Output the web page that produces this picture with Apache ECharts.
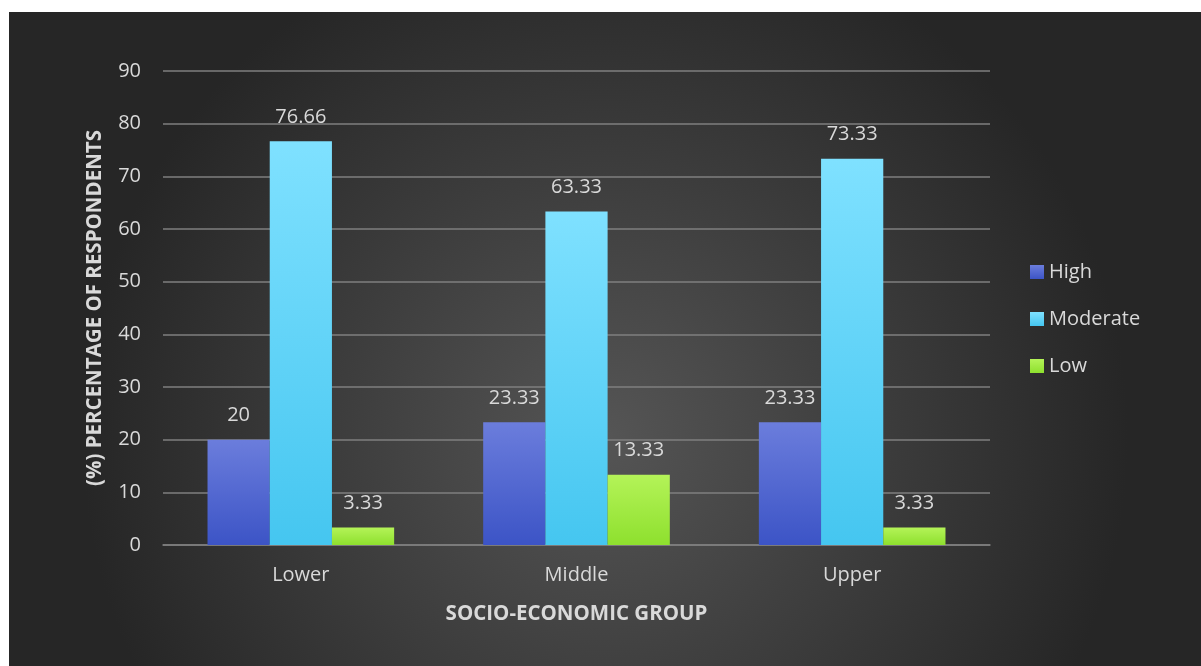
<!DOCTYPE html>
<html>
<head>
<meta charset="utf-8">
<script src="https://cdn.jsdelivr.net/npm/echarts@6/dist/echarts.min.js"></script>
<style>
  html, body { margin: 0; padding: 0; background: #ffffff; }
  #chart { position: absolute; left: 9px; top: 12px; width: 1192px; height: 654px; }
</style>
</head>
<body>
<div id="chart"></div>
<script>
// Socio-economic groups on the x axis
const categories = ['Lower', 'Middle', 'Upper'];
// Percentage of respondents per level
const highValues = [20, 23.33, 23.33];
const moderateValues = [76.66, 63.33, 73.33];
const lowValues = [3.33, 13.33, 3.33];
const seriesNames = ['High', 'Moderate', 'Low'];

const FONT = 'Open Sans';
const TEXT = '#d9d9d9';

function vGrad(top, bottom) {
  return new echarts.graphic.LinearGradient(0, 0, 0, 1, [
    { offset: 0, color: top },
    { offset: 1, color: bottom }
  ]);
}

const labelStyle = {
  show: true,
  position: 'top',
  color: TEXT,
  fontFamily: FONT,
  fontSize: 20,
  distance: 14
};

const chart = echarts.init(document.getElementById('chart'));
chart.setOption({
  backgroundColor: new echarts.graphic.RadialGradient(0.5, 0.65, 0.8, [
    { offset: 0, color: '#555555' },
    { offset: 1, color: '#262626' }
  ]),
  textStyle: { fontFamily: FONT },
  grid: { left: 154, right: 211, top: 59, bottom: 121 },
  legend: {
    orient: 'vertical',
    left: 1016,
    top: 245,
    itemWidth: 14,
    itemHeight: 14,
    itemGap: 27,
    icon: 'rect',
    textStyle: { color: TEXT, fontSize: 20, fontFamily: FONT },
    data: seriesNames
  },
  xAxis: {
    type: 'category',
    data: categories,
    name: 'SOCIO-ECONOMIC GROUP',
    nameLocation: 'middle',
    nameGap: 59,
    nameTextStyle: { color: TEXT, fontSize: 20.5, fontWeight: 'bold', fontFamily: FONT },
    axisLine: { lineStyle: { color: '#7f7f7f', width: 1.5 } },
    axisTick: { show: false },
    axisLabel: { color: TEXT, fontSize: 20, margin: 20 }
  },
  yAxis: {
    type: 'value',
    min: 0,
    max: 90,
    interval: 10,
    name: '(%) PERCENTAGE OF RESPONDENTS',
    nameLocation: 'middle',
    nameRotate: 90,
    nameGap: 57,
    nameTextStyle: { color: TEXT, fontSize: 20.5, fontWeight: 'bold', fontFamily: FONT },
    axisLine: { show: false },
    axisTick: { show: false },
    axisLabel: { color: TEXT, fontSize: 20, margin: 22 },
    splitLine: { lineStyle: { color: '#7f7f7f', width: 1.5 } }
  },
  series: [
    {
      name: seriesNames[0],
      type: 'bar',
      data: highValues,
      barGap: '0%',
      barCategoryGap: '32.3%',
      itemStyle: { color: vGrad('#6b7ddc', '#3c54c6') },
      label: labelStyle
    },
    {
      name: seriesNames[1],
      type: 'bar',
      data: moderateValues,
      itemStyle: { color: vGrad('#7fe1ff', '#45c6f0') },
      label: labelStyle
    },
    {
      name: seriesNames[2],
      type: 'bar',
      data: lowValues,
      itemStyle: { color: vGrad('#b4f358', '#8ee02e') },
      label: labelStyle
    }
  ]
});
</script>
</body>
</html>
